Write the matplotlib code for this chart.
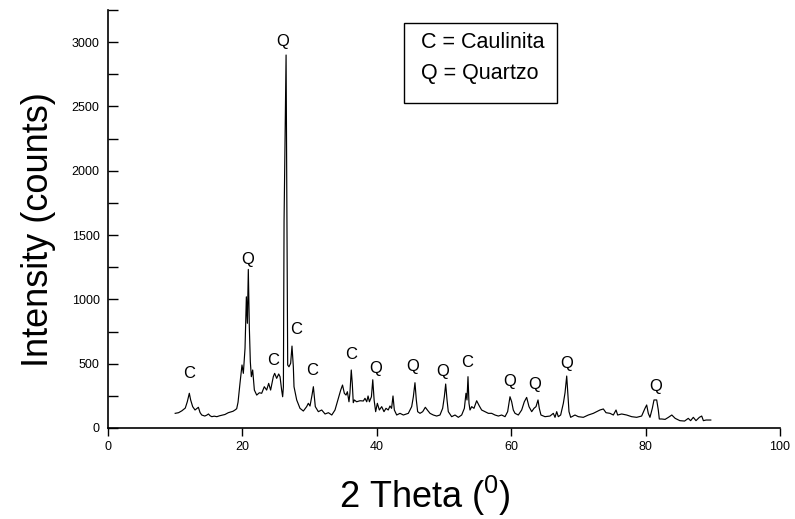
#!/usr/bin/env python3
"""
XRD pattern of a clay sample (kaolinite / quartz)
"""

import matplotlib
matplotlib.use("Agg")
import matplotlib.pyplot as plt
from matplotlib.patches import Rectangle
from matplotlib.ticker import MultipleLocator

plt.rcParams['font.family'] = ['Liberation Sans', 'DejaVu Sans']
plt.rcParams['mathtext.fontset'] = 'custom'
plt.rcParams['mathtext.rm'] = 'Liberation Sans'

# Diffractogram: 2 theta (degrees) and intensity (counts)
two_theta = [
    10.0, 10.5, 11.0, 11.5, 11.8, 12.1, 12.3, 12.6, 12.95, 13.2, 13.45, 13.7,
    13.95, 14.4, 14.7, 14.95, 15.2, 15.45, 15.8, 16.2, 16.6, 16.9, 17.4, 17.9,
    18.3, 18.6, 18.9, 19.15, 19.35, 19.64, 19.94, 20.14, 20.39, 20.59, 20.74,
    20.88, 21.03, 21.18, 21.33, 21.53, 21.78, 22.13, 22.52, 22.87, 23.26, 23.61,
    23.91, 24.2, 24.6, 24.8, 25.1, 25.4, 25.6, 25.84, 25.99, 26.1, 26.2, 26.5,
    26.62, 26.74, 26.93, 27.18, 27.38, 27.58, 27.68, 28.08, 28.57, 29.07, 29.56,
    29.81, 30.06, 30.36, 30.56, 30.7, 30.85, 31.3, 31.8, 32.3, 32.8, 33.3, 33.78,
    34.27, 34.63, 34.9, 35.17, 35.42, 35.62, 35.86, 36.0, 36.2, 36.35, 36.5,
    36.66, 37.0, 37.5, 38.0, 38.24, 38.5, 38.7, 38.9, 39.2, 39.4, 39.6, 39.83,
    40.08, 40.38, 40.73, 41.07, 41.37, 41.7, 41.96, 42.2, 42.41, 42.61, 42.96,
    43.45, 43.95, 44.69, 45.19, 45.44, 45.68, 45.88, 46.08, 46.43, 46.83, 47.22,
    47.52, 47.92, 48.41, 48.91, 49.4, 49.8, 50.05, 50.25, 50.45, 50.64, 51.14,
    51.64, 52.13, 52.63, 53.03, 53.27, 53.42, 53.57, 53.72, 53.87, 54.12, 54.46,
    54.86, 55.26, 55.6, 56.1, 56.6, 57.09, 57.59, 58.09, 58.58, 59.08, 59.47,
    59.82, 60.07, 60.31, 60.57, 61.06, 61.56, 61.95, 62.3, 62.65, 63.05, 63.39,
    63.69, 63.99, 64.18, 64.43, 65.03, 65.77, 66.27, 66.52, 66.77, 67.01, 67.36,
    67.76, 68.01, 68.26, 68.45, 68.6, 68.85, 69.49, 69.99, 70.73, 71.48, 72.22,
    72.72, 73.21, 73.71, 74.11, 74.7, 75.2, 75.6, 75.84, 76.44, 77.18, 77.93,
    78.67, 79.41, 79.91, 80.16, 80.4, 80.65, 81.0, 81.25, 81.65, 81.89, 82.04,
    82.4, 82.9, 83.4, 83.9, 84.4, 85.1, 85.8, 86.35, 86.7, 87.1, 87.5, 88.0,
    88.35, 88.6, 89.0, 89.7,
]
counts = [
    114, 119, 134, 155, 204, 270, 218, 166, 140, 150, 161, 120,
    101, 93, 100, 109, 95, 88, 92, 88, 95, 99, 105, 119,
    125, 130, 140, 150, 200, 347, 490, 425, 619, 1020, 814,
    1233, 787, 515, 399, 451, 295, 256, 274, 270, 321, 295,
    347, 295, 399, 425, 386, 420, 399, 295, 243, 321, 1610, 2900,
    1680, 490, 476, 503, 637, 476, 321, 218, 153, 132, 166,
    192, 171, 256, 321, 243, 166, 127, 140, 109, 119, 101, 140,
    231, 295, 334, 270, 256, 282, 204, 270, 451, 347, 197,
    218, 204, 212, 210, 231, 204, 249, 204, 243, 375, 218, 127,
    192, 140, 166, 127, 153, 140, 171, 153, 249, 140, 101,
    114, 101, 114, 166, 243, 352, 218, 127, 114, 127, 161,
    140, 114, 101, 93, 101, 153, 243, 342, 218, 127, 88,
    101, 83, 101, 153, 270, 218, 399, 192, 140, 166, 153,
    212, 171, 140, 127, 114, 114, 101, 93, 101, 88, 127,
    243, 204, 140, 114, 101, 140, 204, 238, 166, 127, 153,
    166, 218, 153, 101, 88, 93, 114, 83, 127, 88, 101,
    192, 274, 404, 243, 127, 83, 101, 88, 83, 101, 114,
    127, 140, 148, 119, 114, 101, 140, 101, 109, 101, 88,
    83, 93, 153, 179, 114, 83, 153, 218, 218, 140, 70,
    70, 67, 83, 101, 75, 57, 54, 75, 57, 83, 57, 83,
    93, 57, 62, 62,
]

# Phase identification of the main reflections
peak_phase = ['C', 'Q', 'C', 'Q', 'C', 'C', 'C', 'Q', 'Q', 'Q', 'C', 'Q', 'Q', 'Q', 'Q']
peak_theta = [12.1, 20.74, 24.5, 26.0, 27.98, 30.4, 36.2, 39.9, 45.4, 49.75,
              53.5, 59.8, 63.5, 68.26, 81.55]
peak_label_y = [425, 1311, 523, 3002, 767, 446, 575, 466, 482, 443,
                513, 360, 342, 503, 321]

legend_lines = ['C = Caulinita', 'Q = Quartzo']


def main():
    fig = plt.figure(figsize=(7.95, 5.19), dpi=100)
    ax = fig.add_axes([108 / 795, 91 / 519, 672 / 795, 418 / 519])

    ax.plot(two_theta, counts, color='black', lw=0.85)

    for lab, t, y in zip(peak_phase, peak_theta, peak_label_y):
        ax.text(t, y, lab, ha='center', va='center', fontsize=12)

    ax.set_xlim(0, 100)
    ax.set_ylim(0, 3250)
    ax.xaxis.set_major_locator(MultipleLocator(20))
    ax.yaxis.set_major_locator(MultipleLocator(500))
    ax.yaxis.set_minor_locator(MultipleLocator(250))
    ax.tick_params(axis='y', which='both', direction='in', length=7, width=1,
                   labelsize=9, pad=6)
    ax.tick_params(axis='x', direction='out', length=6, width=1, labelsize=9)

    for side in ('top', 'right'):
        ax.spines[side].set_visible(False)
    for side in ('left', 'bottom'):
        ax.spines[side].set_linewidth(1.2)

    ax.set_ylabel('Intensity (counts)', fontsize=26)
    ax.set_xlabel(r'2 Theta ($^{\mathrm{0}}$)', fontsize=26)
    ax.yaxis.set_label_coords(-0.078, 0.474)
    ax.xaxis.set_label_coords(0.472, -0.11)

    # phase key in a framed box
    fig.patches.append(Rectangle((404 / 795, 1 - 103 / 519), 153 / 795, 80 / 519,
                                 transform=fig.transFigure, fill=False,
                                 edgecolor='black', lw=1.0))
    fig.text(421 / 795, 1 - 42 / 519, legend_lines[0], fontsize=15.5, va='center')
    fig.text(421 / 795, 1 - 73 / 519, legend_lines[1], fontsize=15.5, va='center')

    fig.savefig('out.png', dpi=100)


if __name__ == "__main__":
    main()
